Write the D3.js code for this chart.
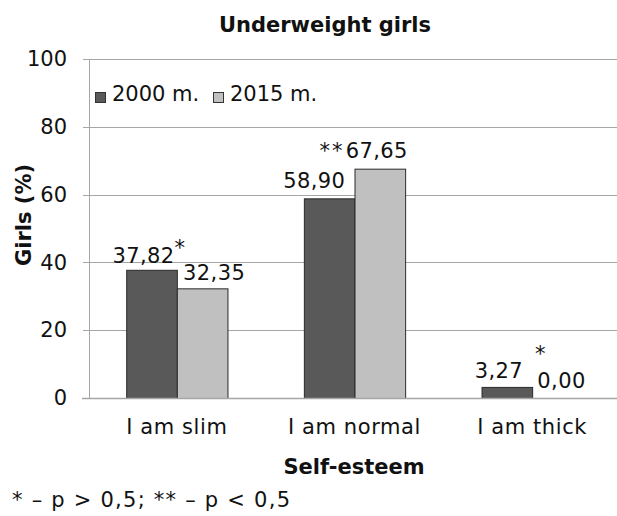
<!DOCTYPE html>
<html>
<head>
<meta charset="utf-8">
<script src="https://cdn.jsdelivr.net/npm/d3@7"></script>
<style>
	body { margin: 0; background: #fff; }
	svg { display: block; font-family: "DejaVu Sans", Verdana, sans-serif; }
</style>
</head>
<body>
<svg id="chart" width="617" height="516"></svg>
<script>
// chart data
var categories = ["I am slim", "I am normal", "I am thick"];
var seriesNames = ["2000 m.", "2015 m."];
var values2000 = [37.82, 58.90, 3.27];
var values2015 = [32.35, 67.65, 0.00];
var significance = ["*", "**", "*"];
var yTicks = [0, 20, 40, 60, 80, 100];

var colors = { dark: "#595959", light: "#c0c0c0", grid: "#a6a6a6", text: "#111" };

// hand placement of the value labels, as in the original (dx, dy from bar top centre)
var labelNudge = [
	[[-8, -7], [12, -8]],
	[[-15, -10], [-3, -11]],
	[[-8, -9], [4, -10]]
];
// where the stars sit, relative to the left edge / top of the 2015 bar
var starNudge = [[4, -15], [-10, -11], [9, -26]];

var svg = d3.select("#chart");
var fontSize = 21;

var x0 = d3.scaleBand()
	.domain(categories)
	.range([88, 621])
	.paddingInner(0.43)
	.paddingOuter(0.215);
var x1 = d3.scaleBand()
	.domain(seriesNames)
	.range([0, x0.bandwidth()]);
var y = d3.scaleLinear()
	.domain([0, 100])
	.range([398, 59]);

// grid lines + y axis
var yAxis = d3.axisLeft(y).tickValues(yTicks).tickSize(-534).tickPadding(16);
var gy = svg.append("g")
	.attr("transform", "translate(83,0)")
	.call(yAxis);
gy.select(".domain").remove();
gy.selectAll(".tick line").attr("stroke", colors.grid).attr("stroke-width", 1)
	.attr("shape-rendering", "crispEdges");
gy.selectAll(".tick text")
	.attr("font-size", fontSize)
	.attr("font-family", "DejaVu Sans")
	.attr("fill", colors.text);

svg.append("line")
	.attr("x1", 89.5).attr("x2", 89.5)
	.attr("y1", y(100)).attr("y2", y(0))
	.attr("stroke", colors.grid);

// bars
var rows = categories.map(function(c, i) {
	return [
		{ cat: c, series: seriesNames[0], value: values2000[i], i: i, s: 0 },
		{ cat: c, series: seriesNames[1], value: values2015[i], i: i, s: 1 }
	];
});

var groups = svg.append("g").selectAll("g")
	.data(rows)
	.enter().append("g")
	.attr("transform", function(d) { return "translate(" + x0(d[0].cat) + ",0)"; });

groups.selectAll("rect")
	.data(function(d) { return d; })
	.enter().append("rect")
	.attr("x", function(d) { return x1(d.series) + 0.5; })
	.attr("y", function(d) { return y(d.value) + 0.5; })
	.attr("width", x1.bandwidth())
	.attr("height", function(d) { return y(0) - y(d.value); })
	.attr("fill", function(d) { return d.s === 0 ? colors.dark : colors.light; })
	.attr("stroke", function(d) { return d.value > 0 ? "#2a2a2a" : "none"; })
	.attr("stroke-width", 1);

// x axis line
svg.append("line")
	.attr("x1", 82).attr("x2", 617)
	.attr("y1", y(0) + 0.5).attr("y2", y(0) + 0.5)
	.attr("stroke", colors.grid).attr("stroke-width", 1.5);

// value labels
groups.selectAll("text.val")
	.data(function(d) { return d; })
	.enter().append("text")
	.attr("class", "val")
	.attr("x", function(d) { return x1(d.series) + x1.bandwidth() / 2 + labelNudge[d.i][d.s][0]; })
	.attr("y", function(d) { return y(d.value) + labelNudge[d.i][d.s][1]; })
	.attr("text-anchor", "middle")
	.attr("font-size", fontSize)
	.attr("letter-spacing", 0.4)
	.attr("fill", colors.text)
	.text(function(d) { return d3.format(".2f")(d.value).replace(".", ","); });

// significance marks
svg.selectAll("text.sig")
	.data(significance)
	.enter().append("text")
	.attr("class", "sig")
	.attr("font-size", fontSize)
	.attr("letter-spacing", 2)
	.attr("fill", colors.text)
	.attr("text-anchor", function(d, i) { return i === 1 ? "end" : "middle"; })
	.attr("x", function(d, i) { return x0(categories[i]) + x1(seriesNames[1]) + starNudge[i][0]; })
	.attr("y", function(d, i) {
		return y(Math.max(values2015[i], values2000[i])) + starNudge[i][1];
	})
	.text(function(d) { return d; });

// category labels
svg.selectAll("text.cat")
	.data(categories)
	.enter().append("text")
	.attr("class", "cat")
	.attr("x", function(d) { return x0(d) + x0.bandwidth() / 2; })
	.attr("y", 434)
	.attr("text-anchor", "middle")
	.attr("font-size", fontSize)
	.attr("letter-spacing", 0.6)
	.attr("fill", colors.text)
	.text(function(d) { return d; });

// legend
var legend = svg.append("g").selectAll("g")
	.data(seriesNames)
	.enter().append("g")
	.attr("transform", function(d, i) { return "translate(" + (95 + i * 118) + ",92)"; });
legend.append("rect")
	.attr("x", 0.5).attr("y", 0.5)
	.attr("width", 10).attr("height", 10)
	.attr("fill", function(d, i) { return i === 0 ? colors.dark : colors.light; })
	.attr("stroke", "#333");
legend.append("text")
	.attr("x", 17).attr("y", 9)
	.attr("font-size", fontSize)
	.attr("fill", colors.text)
	.text(function(d) { return d; });

// titles
svg.append("text")
	.attr("x", 325).attr("y", 32)
	.attr("text-anchor", "middle")
	.attr("font-size", 21).attr("font-weight", "bold")
	.attr("fill", colors.text)
	.text("Underweight girls");

svg.append("text")
	.attr("transform", "translate(31,215) rotate(-90)")
	.attr("text-anchor", "middle")
	.attr("font-size", 21).attr("font-weight", "bold")
	.attr("fill", colors.text)
	.text("Girls (%)");

svg.append("text")
	.attr("x", 354).attr("y", 474)
	.attr("text-anchor", "middle")
	.attr("font-size", 21).attr("font-weight", "bold")
	.attr("fill", colors.text)
	.text("Self-esteem");

svg.append("text")
	.attr("x", 12).attr("y", 507)
	.attr("font-size", fontSize)
	.attr("textLength", 278)
	.attr("lengthAdjust", "spacing")
	.attr("fill", colors.text)
	.text("* – p > 0,5; ** – p < 0,5");
</script>
</body>
</html>
